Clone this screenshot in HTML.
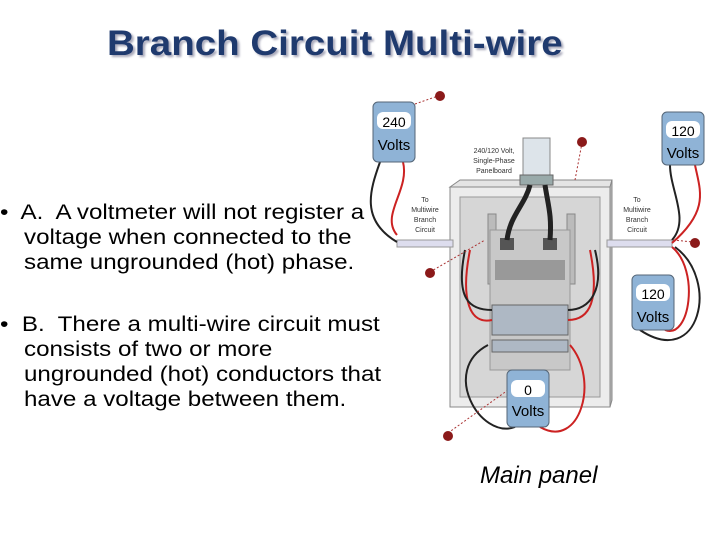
<!DOCTYPE html>
<html><head><meta charset="utf-8"><style>
body{margin:0;width:720px;height:540px;background:#fff;overflow:hidden;position:relative;font-family:"Liberation Sans",sans-serif}
.t{position:absolute;left:107px;top:24px;font-size:35px;font-weight:bold;color:#1f3a6e;text-shadow:2px 2px 2px #aab;transform:scaleX(1.1);transform-origin:left top;white-space:nowrap}
.b{position:absolute;font-size:21px;color:#000;line-height:25px;transform:scaleX(1.15);transform-origin:left top;white-space:nowrap}
.mp{position:absolute;left:480px;top:462px;font-size:24px;font-style:italic}
</style></head><body>
<div class="t">Branch Circuit Multi-wire</div>
<svg style="position:absolute;left:0;top:0" width="720" height="540">
<g font-family="Liberation Sans" font-size="7" fill="#333" text-anchor="middle">
<text x="425" y="202">To</text><text x="425" y="212">Multiwire</text><text x="425" y="222">Branch</text><text x="425" y="232">Circuit</text>
<text x="637" y="202">To</text><text x="637" y="212">Multiwire</text><text x="637" y="222">Branch</text><text x="637" y="232">Circuit</text>
<text x="494" y="153">240/120 Volt,</text><text x="494" y="163">Single-Phase</text><text x="494" y="173">Panelboard</text>
</g>
<polygon points="450,187 460,180 612,180 610,187" fill="#e4e4e4" stroke="#888"/>
<rect x="450" y="187" width="160" height="220" fill="#ececec" stroke="#888"/>
<polygon points="610,187 612,180 612,400 610,407" fill="#bbb" stroke="#888"/>
<rect x="460" y="197" width="140" height="200" fill="#d6d6d6" stroke="#999"/>
<rect x="488" y="214" width="8" height="70" fill="#bbb" stroke="#888"/>
<rect x="567" y="214" width="8" height="70" fill="#bbb" stroke="#888"/>
<rect x="490" y="230" width="80" height="140" fill="#c8c8c8" stroke="#999"/>
<rect x="495" y="260" width="70" height="20" fill="#999"/>
<rect x="492" y="305" width="76" height="30" fill="#aeb8c4" stroke="#666"/>
<rect x="492" y="340" width="76" height="12" fill="#aeb8c4" stroke="#666"/>
<rect x="523" y="138" width="27" height="45" fill="#dde4ea" stroke="#888"/>
<rect x="520" y="175" width="33" height="10" fill="#9aa" stroke="#666"/>
<rect x="500" y="238" width="14" height="12" fill="#555"/><rect x="543" y="238" width="14" height="12" fill="#555"/>
<path d="M530,185 C525,205 510,215 507,240 M545,185 C548,205 552,215 550,240" stroke="#222" stroke-width="5" fill="none"/>
<rect x="397" y="240" width="56" height="7" fill="#dde" stroke="#999"/>
<rect x="607" y="240" width="65" height="7" fill="#dde" stroke="#999"/>
<g fill="none" stroke-width="2">
<path d="M380,162 C370,190 360,220 397,242" stroke="#222"/>
<path d="M403,162 C410,190 380,215 397,235" stroke="#c22"/>
<path d="M672,240 C690,220 670,190 670,165" stroke="#222"/>
<path d="M672,243 C710,210 700,190 695,165" stroke="#c22"/>
<path d="M672,247 C700,270 690,340 665,330" stroke="#c22"/>
<path d="M675,247 C720,280 700,370 640,330" stroke="#222"/>
<path d="M488,345 C440,370 480,440 515,427" stroke="#222"/>
<path d="M570,345 C600,380 580,450 540,427" stroke="#c22"/>
<path d="M470,250 C460,300 470,325 492,320 M590,250 C600,300 590,320 568,320" stroke="#c22"/>
<path d="M465,250 C455,300 470,310 492,310 M595,250 C605,290 590,310 568,310" stroke="#222"/>
</g>
<g stroke="#a33" stroke-dasharray="2,2" fill="none">
<path d="M415,104 L438,96"/><path d="M575,180 L582,143"/><path d="M430,272 L485,240"/><path d="M448,433 L515,385"/><path d="M673,240 L693,242"/>
</g>
<g fill="#8b1a1a">
<circle cx="440" cy="96" r="5"/><circle cx="582" cy="142" r="5"/><circle cx="430" cy="273" r="5"/><circle cx="448" cy="436" r="5"/><circle cx="695" cy="243" r="5"/>
</g>
<g font-family="Liberation Sans" text-anchor="middle">
<g><rect x="373" y="102" width="42" height="60" rx="5" fill="#8fb3d6" stroke="#567"/><rect x="377" y="112" width="34" height="17" rx="6" fill="#fff"/><text x="394" y="127" font-size="14">240</text><text x="394" y="150" font-size="15">Volts</text></g>
<g><rect x="662" y="112" width="42" height="53" rx="5" fill="#8fb3d6" stroke="#567"/><rect x="666" y="121" width="34" height="17" rx="6" fill="#fff"/><text x="683" y="136" font-size="14">120</text><text x="683" y="158" font-size="15">Volts</text></g>
<g><rect x="632" y="275" width="42" height="55" rx="5" fill="#8fb3d6" stroke="#567"/><rect x="636" y="284" width="34" height="17" rx="6" fill="#fff"/><text x="653" y="299" font-size="14">120</text><text x="653" y="322" font-size="15">Volts</text></g>
<g><rect x="507" y="370" width="42" height="57" rx="5" fill="#8fb3d6" stroke="#567"/><rect x="511" y="380" width="34" height="17" rx="6" fill="#fff"/><text x="528" y="395" font-size="14">0</text><text x="528" y="416" font-size="15">Volts</text></g>
</g>
</svg>
<div class="b" style="left:0px;top:200px">•&nbsp; A.&nbsp; A voltmeter will not register a</div>
<div class="b" style="left:24px;top:225px">voltage when connected to the<br>same ungrounded (hot) phase.</div>
<div class="b" style="left:0px;top:312px">•&nbsp; B.&nbsp; There a multi-wire circuit must</div>
<div class="b" style="left:24px;top:337px">consists of two or more<br>ungrounded (hot) conductors that<br>have a voltage between them.</div>
<div class="mp">Main panel</div>
</body></html>
